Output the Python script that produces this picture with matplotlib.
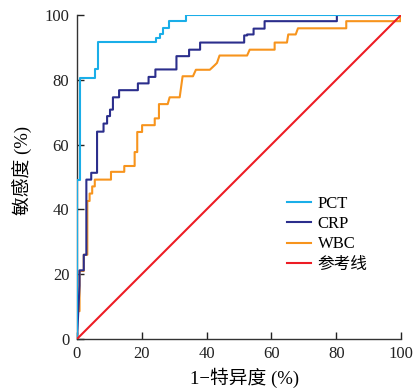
import matplotlib
matplotlib.use("Agg")
import matplotlib.pyplot as plt

plt.rcParams['font.family'] = ['Liberation Serif', 'Noto Sans CJK SC']

# ROC step vertices (1-specificity %, sensitivity %)
pct_fpr = [0, 0, 0.8, 0.8, 5.5, 5.5, 6.5, 6.5, 24.5, 24.5, 25.5, 25.5, 26.5, 26.5, 28.5, 28.5, 33.5, 33.5, 100]
pct_tpr = [0, 49.2, 49.2, 80.7, 80.7, 83.2, 83.2, 91.7, 91.7, 93.0, 93.0, 94.0, 94.0, 96.0, 96.0, 98.0, 98.0, 100, 100]

crp_fpr = [0, 0.8, 0.8, 2.1, 2.1, 2.9, 2.9, 4.4, 4.4, 6.2, 6.2, 8.2, 8.2, 9.3, 9.3, 10.2, 10.2, 11.1, 11.1, 13.0, 13.0,
           18.8, 18.8, 22.1, 22.1, 24.2, 24.2, 30.7, 30.7, 34.6, 34.6, 38.0, 38.0, 51.6, 51.6, 52.5, 52.5,
           54.5, 54.5, 57.9, 57.9, 80.2, 80.2, 100]
crp_tpr = [0, 16.5, 21.2, 21.2, 26.0, 26.0, 49.2, 49.2, 51.3, 51.3, 64.0, 64.0, 66.5, 66.5, 68.8, 68.8, 70.8, 70.8, 74.6, 74.6, 76.8,
           76.8, 78.9, 78.9, 80.9, 80.9, 83.2, 83.2, 87.3, 87.3, 89.3, 89.3, 91.5, 91.5, 93.7, 93.7, 94.0,
           94.0, 95.8, 95.8, 98.1, 98.1, 100, 100]

wbc_fpr = [0, 0, 0.8, 0.8, 2.1, 2.1, 3.2, 3.2, 3.9, 3.9, 4.7, 4.7, 5.5, 5.5, 10.5, 10.5, 14.6, 14.6, 17.8, 17.8,
           18.6, 18.6, 20.1, 20.1, 24.0, 24.0, 25.3, 25.3, 28.0, 28.6, 31.7, 32.6, 35.8, 36.7, 41.0, 42.5, 43.2,
           44.0, 52.5, 53.3, 61.0, 61.0, 64.8, 65.2, 67.5, 68.2, 83.1, 83.1, 99.8, 99.8, 100]
wbc_tpr = [0, 8.6, 8.6, 21.0, 21.0, 26.0, 26.0, 42.6, 42.6, 44.9, 44.9, 47.1, 47.1, 49.2, 49.2, 51.6, 51.6, 53.4, 53.4, 57.7,
           57.7, 63.9, 63.9, 66.0, 66.0, 68.1, 68.1, 72.5, 72.5, 74.6, 74.6, 81.1, 81.1, 83.1, 83.1, 84.5, 85.2,
           87.5, 87.5, 89.3, 89.3, 91.5, 91.5, 94.0, 94.0, 95.9, 95.9, 98.1, 98.1, 100, 100]

ref_x = [0, 100]
ref_y = [0, 100]

labels = ['PCT', 'CRP', 'WBC', '参考线']
colors = ['#1aaee8', '#2b2e8c', '#f7941d', '#ed1c24']
xticks = [0, 20, 40, 60, 80, 100]
yticks = [0, 20, 40, 60, 80, 100]

fig = plt.figure(figsize=(4.16, 3.89), dpi=100)
ax = fig.add_axes([0.185, 0.1285, 0.779, 0.8329])

ax.plot(wbc_fpr, wbc_tpr, color=colors[2], lw=1.5, label=labels[2], zorder=2)
ax.plot(crp_fpr, crp_tpr, color=colors[1], lw=1.5, label=labels[1], zorder=3)
ax.plot(pct_fpr, pct_tpr, color=colors[0], lw=1.5, label=labels[0], zorder=4)
ax.plot(ref_x, ref_y, color=colors[3], lw=1.5, label=labels[3], zorder=5)

ax.set_xlim(0, 100)
ax.set_ylim(0, 100)
ax.set_xticks(xticks)
ax.set_yticks(yticks)
ax.tick_params(direction='in', length=5, width=1, labelsize=12, colors='#222222')
ax.tick_params(axis='y', pad=5.5)
ax.tick_params(axis='x', pad=5)
for s in ['top', 'right']:
    ax.spines[s].set_visible(False)
for s in ['left', 'bottom']:
    ax.spines[s].set_color('#333333')
    ax.spines[s].set_linewidth(1)

ax.set_xlabel('1−特异度 (%)', fontsize=13.5)
ax.set_ylabel('敏感度 (%)', fontsize=13.5)
ax.xaxis.set_label_coords(0.517, -0.087)
ax.yaxis.set_label_coords(-0.136, 0.519)

h, l = ax.get_legend_handles_labels()
order = [2, 1, 0, 3]
ax.legend([h[i] for i in order], [l[i] for i in order], frameon=False, fontsize=12,
          loc='upper left', bbox_to_anchor=(0.648, 0.441), borderaxespad=0, borderpad=0,
          handlelength=1.45, handletextpad=0.4, labelspacing=0.25)

fig.savefig('out.png', dpi=100)
